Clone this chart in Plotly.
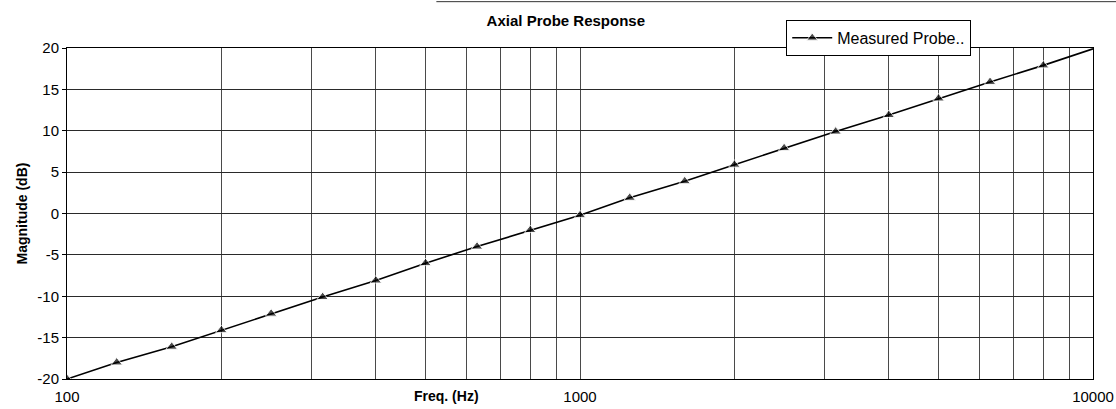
import plotly.graph_objects as go

# Third-octave band centre frequencies (Hz) and measured magnitude (dB)
freq_hz = [100, 125, 160, 200, 250, 315, 400, 500, 630, 800, 1000,
           1250, 1600, 2000, 2500, 3150, 4000, 5000, 6300, 8000, 10000]
magnitude_db = [-20.0, -18.0, -16.1, -14.1, -12.1, -10.1, -8.1, -6.0, -4.0, -2.0, -0.2,
                1.9, 3.9, 5.9, 7.9, 9.9, 11.9, 13.9, 15.9, 17.9, 19.9]
marker_shown = [1] * 20 + [0]

# Log grid lines: every integer multiple within each decade
grid_freqs = [m * d for d in (100, 1000) for m in range(1, 10)] + [10000]
grid_text = [str(f) if f in (100, 1000, 10000) else "" for f in grid_freqs]
y_ticks = [-20, -15, -10, -5, 0, 5, 10, 15, 20]
y_tick_text = [str(v) for v in y_ticks]

fig = go.Figure()
fig.add_trace(go.Scatter(
    x=freq_hz, y=magnitude_db,
    mode="lines+markers",
    name="Measured Probe..",
    line=dict(color="black", width=1.6),
    marker=dict(symbol="triangle-up", color="black",
                size=[10 * s for s in marker_shown]),
))

fig.update_layout(
    width=1116, height=409,
    margin=dict(l=67, r=23, t=48, b=30, autoexpand=False),
    paper_bgcolor="white", plot_bgcolor="white",
    font=dict(family="Liberation Sans, Arial, sans-serif", color="black", size=15),
    title=dict(text="<b>Axial Probe Response</b>", x=0.507, xanchor="center",
               y=0.95, yanchor="middle", font=dict(size=15)),
    showlegend=True,
    legend=dict(x=0.701, y=1.085, xanchor="left", yanchor="top",
                bordercolor="black", borderwidth=1, bgcolor="white",
                font=dict(size=16), itemwidth=40,
                tracegroupgap=0),
)

fig.update_xaxes(
    type="log", range=[2, 4], automargin=False,
    tickmode="array", tickvals=grid_freqs, ticktext=grid_text,
    showgrid=True, gridcolor="#4a4a4a", gridwidth=1,
    ticks="", tickfont=dict(size=15), ticklabelstandoff=4,
    showline=True, linecolor="black", linewidth=1, mirror=True,
    zeroline=False,
)
fig.update_yaxes(
    range=[-20, 20], tickmode="array", tickvals=y_ticks, ticktext=y_tick_text,
    automargin=False,
    showgrid=True, gridcolor="#2a2a2a", gridwidth=1,
    ticks="outside", ticklen=4, tickcolor="black", tickfont=dict(size=15),
    showline=True, linecolor="black", linewidth=1, mirror=True,
    zeroline=False,
    title=dict(text="<b>Magnitude (dB)</b>", font=dict(size=14), standoff=6),
)

# Axis title for frequency sits on the tick-label baseline
fig.add_annotation(text="<b>Freq. (Hz)</b>", xref="paper", yref="paper",
                   x=0.37, y=-0.052, xanchor="center", yanchor="middle",
                   showarrow=False, font=dict(size=14))

# Page border line along the top edge
fig.add_shape(type="line", xref="paper", yref="paper",
              x0=0.36, x1=1.03, y0=1.14, y1=1.14,
              line=dict(color="#333333", width=1))

fig.write_html("out.html")
